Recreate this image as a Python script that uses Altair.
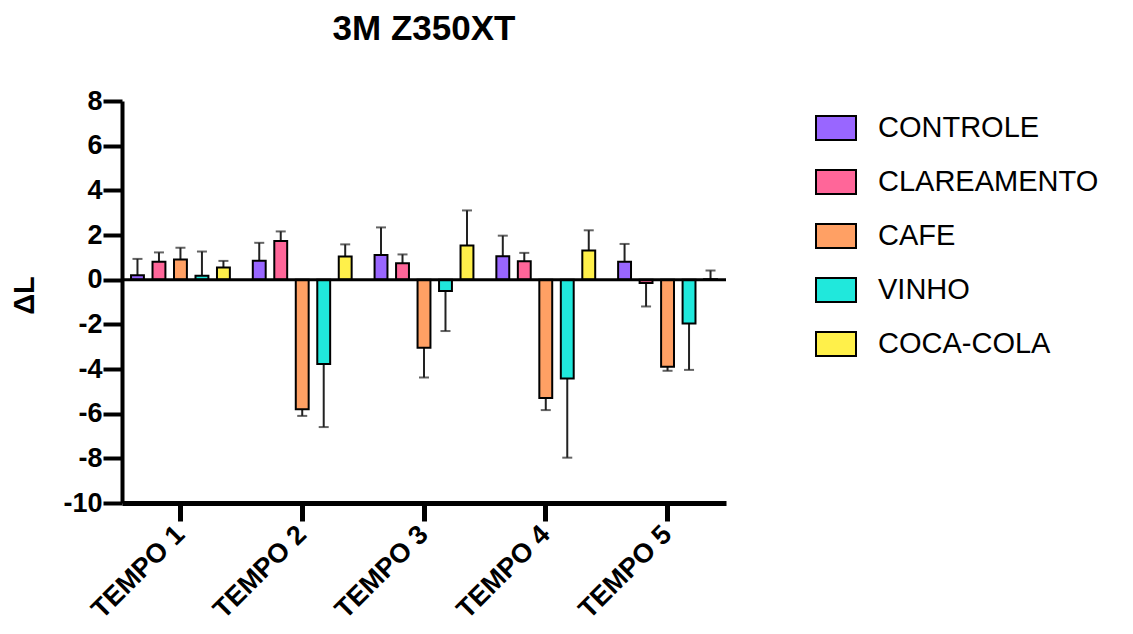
import altair as alt
import pandas as pd

tempos = ["TEMPO 1", "TEMPO 2", "TEMPO 3", "TEMPO 4", "TEMPO 5"]
series = ["CONTROLE", "CLAREAMENTO", "CAFE", "VINHO", "COCA-COLA"]
colors = ["#9966ff", "#ff6699", "#ffa064", "#20e8dc", "#fff04a"]

controle = [0.2, 0.85, 1.1, 1.05, 0.8]
controle_err = [0.73, 0.8, 1.24, 0.92, 0.8]
clareamento = [0.8, 1.73, 0.74, 0.83, -0.15]
clareamento_err = [0.42, 0.43, 0.39, 0.37, 1.05]
cafe = [0.9, -5.8, -3.05, -5.3, -3.9]
cafe_err = [0.53, 0.3, 1.33, 0.54, 0.18]
vinho = [0.18, -3.78, -0.51, -4.42, -1.96]
vinho_err = [1.08, 2.82, 1.79, 3.55, 2.08]
coca = [0.54, 1.04, 1.53, 1.31, 0.02]
coca_err = [0.3, 0.54, 1.57, 0.9, 0.39]

y_ticks = [-10, -8, -6, -4, -2, 0, 2, 4, 6, 8]

means = [controle, clareamento, cafe, vinho, coca]
errs = [controle_err, clareamento_err, cafe_err, vinho_err, coca_err]

rows = []
for s, m, e in zip(series, means, errs):
    for t, mv, ev in zip(tempos, m, e):
        end = mv + ev if mv >= 0 else mv - ev
        rows.append({"tempo": t, "grupo": s, "valor": mv, "fim": end})
df = pd.DataFrame(rows)

FONT = "Liberation Sans"

x_enc = alt.X("tempo:N", sort=tempos,
              scale=alt.Scale(paddingInner=0.1, paddingOuter=0.03),
              axis=alt.Axis(title=None, labelAngle=-45, labelFontSize=27,
                            labelFontWeight="bold", labelColor="black",
                            labelFont=FONT, tickSize=18, tickWidth=5,
                            tickColor="black", domainWidth=5,
                            domainColor="black", labelPadding=9))
xo_enc = alt.XOffset("grupo:N", sort=series,
                     scale=alt.Scale(paddingInner=0.4, paddingOuter=0.25))
y_scale = alt.Scale(domain=[-10, 8], nice=False, zero=False)

base = alt.Chart(df)

bars = base.mark_bar(stroke="black", strokeWidth=2).encode(
    x=x_enc,
    xOffset=xo_enc,
    y=alt.Y("valor:Q", scale=y_scale,
            axis=alt.Axis(title="ΔL", values=y_ticks,
                          labelExpr="'' + datum.value",
                          labelFontSize=27, labelFontWeight="bold",
                          labelColor="black", labelFont=FONT,
                          tickSize=19, tickWidth=4, tickColor="black",
                          domainWidth=4, domainColor="black", grid=False,
                          labelPadding=1,
                          titleFontSize=29, titleFontWeight="bold",
                          titleFont=FONT, titleColor="black",
                          titleAngle=-90, titleAlign="center",
                          titleBaseline="middle", titleX=-98, titleY=194)),
    y2=alt.Y2(datum=0),
    color=alt.Color("grupo:N", sort=series,
                    scale=alt.Scale(domain=series, range=colors),
                    legend=alt.Legend(title=None, orient="none",
                                      legendX=693, legendY=6,
                                      symbolType="M-1,-0.6L1,-0.6L1,0.6L-1,0.6Z",
                                      symbolSize=1600, symbolStrokeColor="black",
                                      symbolStrokeWidth=2, symbolOpacity=1,
                                      labelFontSize=29, labelFont=FONT,
                                      labelColor="black", labelOffset=21,
                                      labelLimit=0,
                                      rowPadding=17, padding=0)),
)

err_rule = base.mark_rule(color="#222222", strokeWidth=2).encode(
    x=alt.X("tempo:N", sort=tempos),
    xOffset=alt.XOffset("grupo:N", sort=series),
    y=alt.Y("valor:Q"),
    y2="fim:Q",
)

err_cap = base.mark_tick(color="#222222", thickness=2, size=10,
                         orient="horizontal").encode(
    x=alt.X("tempo:N", sort=tempos),
    xOffset=alt.XOffset("grupo:N", sort=series),
    y=alt.Y("fim:Q"),
)

zero = alt.Chart(pd.DataFrame({"z": [0]})).mark_rule(
    color="black", strokeWidth=3).encode(y="z:Q")

chart = alt.layer(err_rule, err_cap, bars, zero).properties(
    width=604, height=402,
    title=alt.Title("3M Z350XT", fontSize=35, fontWeight="bold",
                    font=FONT, color="black", anchor="middle", offset=40),
    autosize=alt.AutoSizeParams(type="none"),
    padding={"left": 114, "top": 93, "right": 399, "bottom": 130},
).configure(
    background="white",
    view=alt.ViewConfig(strokeWidth=0, stroke="transparent"),
)

chart.save("out.html", embed_options={"renderer": "svg", "actions": False})
